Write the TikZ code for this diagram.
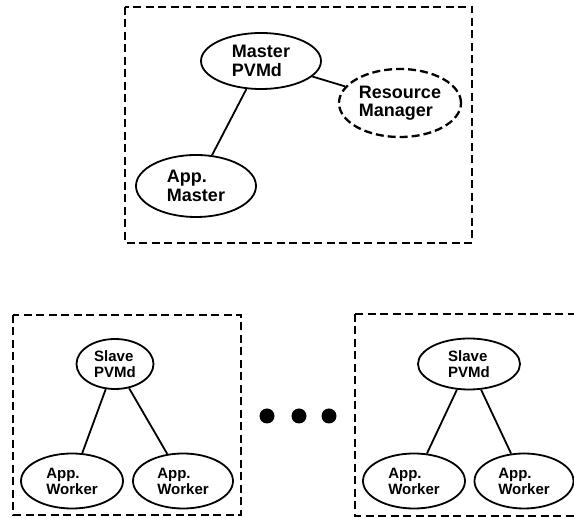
\documentclass[tikz,border=0pt]{standalone}
\usepackage{fontspec}
\setmainfont{Liberation Sans}
\usetikzlibrary{shapes.geometric}
\begin{document}
\begin{tikzpicture}[x=1pt,y=-1pt,
  ell/.style={ellipse,draw,line width=1.8pt,inner sep=0pt,align=left},
  bigfont/.style={font=\fontsize{18}{18.5}\selectfont\bfseries},
  smallfont/.style={font=\fontsize{15}{16}\selectfont\bfseries},
  frame/.style={draw,line width=1.6pt,dash pattern=on 8pt off 4.5pt},
  link/.style={line width=1.8pt}]
\useasboundingbox (0,0) rectangle (574,518);
\clip (0,0) rectangle (574,518);
% frames
\draw[frame] (125,7) rectangle (472,243);
\draw[frame] (13,315) rectangle (241,515);
\draw[frame] (355,314) -- (355,516) -- (590,516);
\draw[frame] (355,314) -- (590,314);
% top nodes
\node[ell,bigfont,minimum width=120pt,minimum height=56pt] (mp) at (261,61) {Master\\PVMd};
\node[ell,bigfont,dash pattern=on 8pt off 4pt,line width=2.3pt,minimum width=122pt,minimum height=68pt] (rm) at (400,103) {Resource\\Manager};
\node[ell,bigfont,minimum width=120pt,minimum height=62pt] (am) at (196,186) {App.\\Master};
\draw[link] (mp) -- (am);
\draw[link] (mp) -- (rm);
% bottom left
\node[ell,smallfont,minimum width=77pt,minimum height=50pt] (s1) at (115,364) {Slave\\PVMd};
\node[ell,smallfont,minimum width=102pt,minimum height=55pt] (w1) at (72,481) {App.\\Worker};
\node[ell,smallfont,minimum width=100pt,minimum height=55pt] (w2) at (183,481) {App.\\Worker};
\draw[link] (s1) -- (w1);
\draw[link] (s1) -- (w2);
% bottom right
\node[ell,smallfont,minimum width=102pt,minimum height=51pt] (s2) at (469,364) {Slave\\PVMd};
\node[ell,smallfont,minimum width=102pt,minimum height=55pt] (w3) at (414,481) {App.\\Worker};
\node[ell,smallfont,minimum width=99pt,minimum height=55pt] (w4) at (524,481) {App.\\Worker};
\draw[link] (s2) -- (w3);
\draw[link] (s2) -- (w4);
% dots
\fill (267,416) circle (7.5pt);
\fill (299,416) circle (7.5pt);
\fill (329,416) circle (7.5pt);
\end{tikzpicture}
\end{document}
